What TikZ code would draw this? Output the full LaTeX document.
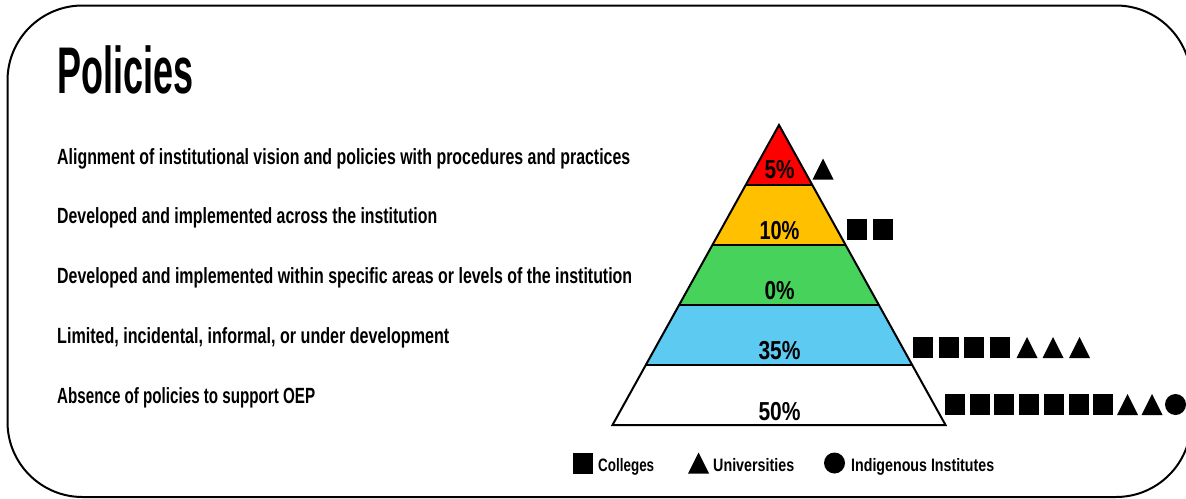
\documentclass[tikz,border=0pt]{standalone}
\usepackage{fontspec}
\setmainfont{Liberation Sans}
\usepackage{graphicx}
\usetikzlibrary{calc}
\newcommand\fitw[2]{\resizebox{#1pt}{\height}{#2}}
\definecolor{bandred}{HTML}{FF0000}
\definecolor{bandyel}{HTML}{FFC000}
\definecolor{bandgrn}{HTML}{47D35B}
\definecolor{bandblu}{HTML}{5DCAF2}
\tikzset{
  lbl/.style={anchor=base west, inner sep=0pt, font=\bfseries\fontsize{22}{22}\selectfont},
  ttl/.style={anchor=base west, inner sep=0pt, font=\bfseries\fontsize{66}{66}\selectfont},
  pct/.style={anchor=base, inner sep=0pt, font=\bfseries\fontsize{26}{26}\selectfont},
  leg/.style={anchor=base west, inner sep=0pt, font=\bfseries\fontsize{18}{18}\selectfont},
  outline/.style={line width=2pt, line join=miter},
  sqmark/.pic={\fill (-10,-10.5) rectangle (10,10.5);},
  trimark/.pic={\fill (-10.5,10.5) -- (10.5,10.5) -- (0,-10.5) -- cycle;},
  dotmark/.pic={\fill (0,0) circle (10.5);}
}
\begin{document}
\begin{tikzpicture}[x=1pt,y=-1pt]
\useasboundingbox (0,0) rectangle (1186,498);
\fill[white] (0,0) rectangle (1186,498);
% frame
\draw[line width=2pt, rounded corners=75pt] (7.5,5.5) rectangle (1191,497);
% title
\node[ttl] (title) at (57,93) {\fitw{136}{Policies}};
% level labels
\node[lbl] (l1) at (57,164) {\fitw{573}{Alignment of institutional vision and policies with procedures and practices}};
\node[lbl] (l2) at (57,223) {\fitw{380}{Developed and implemented across the institution}};
\node[lbl] (l3) at (57,283) {\fitw{575}{Developed and implemented within specific areas or levels of the institution}};
\node[lbl] (l4) at (57,343) {\fitw{392}{Limited, incidental, informal, or under development}};
\node[lbl] (l5) at (57,403) {\fitw{258}{Absence of policies to support OEP}};
% pyramid
\coordinate (apex) at (779,125);
\coordinate (bl) at (612.5,425);
\coordinate (br) at (945.5,425);
\foreach \i/\c in {0/bandred,1/bandyel,2/bandgrn,3/bandblu,4/white}{
  \pgfmathsetmacro\ta{\i/5}\pgfmathsetmacro\tb{(\i+1)/5}
  \fill[\c] ($(apex)!\ta!(bl)$) -- ($(apex)!\ta!(br)$) -- ($(apex)!\tb!(br)$) -- ($(apex)!\tb!(bl)$) -- cycle;
}
\foreach \i in {1,...,4}{
  \pgfmathsetmacro\ta{\i/5}
  \draw[outline] ($(apex)!\ta!(bl)$) -- ($(apex)!\ta!(br)$);
}
\draw[outline] (apex) -- (br) -- (bl) -- cycle;
% percentages
\node[pct] (p1) at (779.5,178) {\fitw{30}{5\%}};
\node[pct] (p2) at (779.5,239) {\fitw{40}{10\%}};
\node[pct] (p3) at (779.5,299) {\fitw{30}{0\%}};
\node[pct] (p4) at (779.5,359) {\fitw{42}{35\%}};
\node[pct] (p5) at (779.5,420) {\fitw{42}{50\%}};
% markers
\pic (r1t1) at (823,169) {trimark};
\pic (r2s1) at (856.5,229) {sqmark};
\pic (r2s2) at (883,229) {sqmark};
\foreach \x [count=\k] in {923,948.5,974,1000}{\pic (r3s\k) at (\x,347.5) {sqmark};}
\foreach \x [count=\k] in {1027,1053,1079.5}{\pic (r3t\k) at (\x,347.5) {trimark};}
\foreach \x [count=\k] in {955,979.7,1004.4,1029.1,1053.8,1078.5,1103.2}{\pic (r4s\k) at (\x,404.5) {sqmark};}
\foreach \x [count=\k] in {1127.5,1152}{\pic (r4t\k) at (\x,404.5) {trimark};}
\pic (r4c1) at (1175.5,404.5) {dotmark};
% legend
\pic (lgs) at (583,463) {sqmark};
\node[leg] (lg1) at (598,471) {\fitw{56}{Colleges}};
\pic (lgt) at (698.5,463) {trimark};
\node[leg] (lg2) at (713,471) {\fitw{81}{Universities}};
\pic (lgc) at (834.5,463) {dotmark};
\node[leg] (lg3) at (851,471) {\fitw{143}{Indigenous Institutes}};
\end{tikzpicture}
\end{document}
